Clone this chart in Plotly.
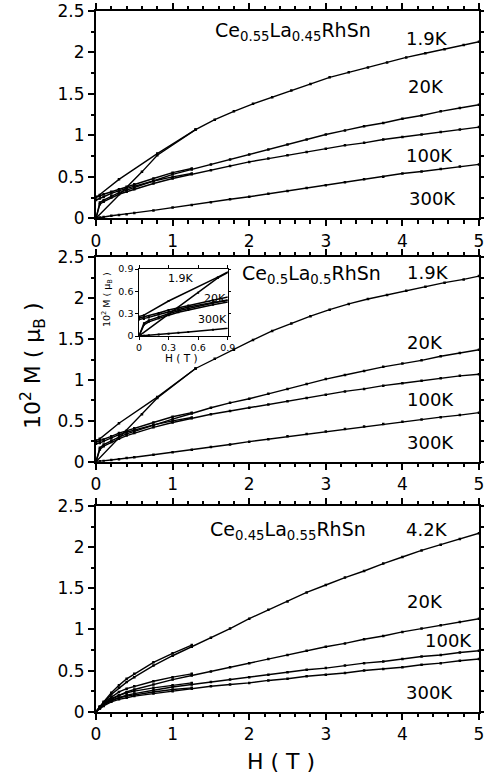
import plotly.graph_objects as go

# ---------------- field grids (T) ----------------
H_GRID = [0, 0.05, 0.1, 0.2, 0.3, 0.4, 0.5, 0.75, 1.0, 1.25, 1.5, 1.75, 2.0,
          2.25, 2.5, 2.75, 3.0, 3.25, 3.5, 3.75, 4.0, 4.25, 4.5, 4.75, 5.0]
H_RETURN = [1.25, 1.0, 0.75, 0.5, 0.4, 0.3, 0.2, 0.1, 0.05, 0]
H_LOWT = [0, 0.6, 0.8, 1.3, 1.55, 1.8, 2.05, 2.3, 2.55, 2.8, 3.05, 3.3, 3.55,
          3.8, 4.05, 4.3, 4.55, 4.8, 5.0]
H_LOWT_RETURN = [1.3, 0.8, 0.3, 0.05, 0]

# ---------------- Ce0.55La0.45RhSn (10^2 M, mu_B) ----------------
A_19K_UP = [0, 0.56, 0.76, 1.07, 1.19, 1.29, 1.38, 1.46, 1.54, 1.62, 1.70, 1.76, 1.82,
            1.88, 1.94, 1.99, 2.04, 2.09, 2.13]
A_19K_DN = [1.07, 0.78, 0.47, 0.28, 0.25]
A_20K_UP = [0, 0.19, 0.22, 0.27, 0.31, 0.34, 0.37, 0.45, 0.53, 0.59, 0.65, 0.71, 0.77,
            0.83, 0.89, 0.95, 1.01, 1.06, 1.11, 1.15, 1.20, 1.24, 1.29, 1.33, 1.37]
A_20K_DN = [0.60, 0.55, 0.48, 0.41, 0.38, 0.35, 0.32, 0.29, 0.27, 0.26]
A_100K_UP = [0, 0.17, 0.20, 0.25, 0.29, 0.32, 0.35, 0.42, 0.48, 0.53, 0.58, 0.63, 0.68,
             0.72, 0.76, 0.80, 0.84, 0.88, 0.91, 0.95, 0.98, 1.01, 1.04, 1.07, 1.10]
A_100K_DN = [0.54, 0.50, 0.45, 0.39, 0.36, 0.33, 0.30, 0.26, 0.24, 0.22]
A_300K_UP = [0, 0.01, 0.015, 0.03, 0.04, 0.05, 0.065, 0.095, 0.13, 0.16, 0.195, 0.23, 0.26,
             0.295, 0.33, 0.365, 0.40, 0.435, 0.47, 0.50, 0.54, 0.565, 0.595, 0.625, 0.65]

# ---------------- Ce0.5La0.5RhSn ----------------
B_19K_UP = [0, 0.58, 0.78, 1.14, 1.26, 1.37, 1.49, 1.60, 1.69, 1.78, 1.86, 1.93, 1.99,
            2.04, 2.09, 2.14, 2.19, 2.23, 2.27]
B_19K_DN = [1.14, 0.79, 0.47, 0.28, 0.26]
B_20K_UP = [0, 0.17, 0.21, 0.26, 0.30, 0.34, 0.37, 0.45, 0.52, 0.59, 0.66, 0.72, 0.77,
            0.83, 0.89, 0.95, 1.01, 1.06, 1.11, 1.16, 1.20, 1.24, 1.29, 1.33, 1.37]
B_20K_DN = [0.60, 0.55, 0.48, 0.41, 0.38, 0.35, 0.31, 0.27, 0.25, 0.24]
B_100K_UP = [0, 0.15, 0.19, 0.24, 0.28, 0.32, 0.35, 0.42, 0.48, 0.53, 0.58, 0.62, 0.66,
             0.70, 0.74, 0.78, 0.82, 0.86, 0.89, 0.93, 0.96, 0.99, 1.02, 1.05, 1.07]
B_100K_DN = [0.54, 0.50, 0.45, 0.39, 0.36, 0.33, 0.29, 0.25, 0.23, 0.22]
B_300K_UP = [0, 0.005, 0.01, 0.02, 0.03, 0.045, 0.055, 0.085, 0.115, 0.145, 0.18, 0.21, 0.245,
             0.275, 0.31, 0.34, 0.37, 0.40, 0.43, 0.46, 0.49, 0.515, 0.545, 0.57, 0.60]

# ---------------- Ce0.45La0.55RhSn ----------------
C_42K_UP = [0, 0.06, 0.11, 0.21, 0.29, 0.36, 0.42, 0.56, 0.68, 0.79, 0.90, 1.01, 1.13,
            1.24, 1.34, 1.45, 1.54, 1.63, 1.71, 1.80, 1.88, 1.96, 2.03, 2.10, 2.17]
C_42K_DN = [0.81, 0.71, 0.60, 0.46, 0.40, 0.32, 0.23, 0.12, 0.06, 0]
C_20K_UP = [0, 0.05, 0.09, 0.15, 0.20, 0.24, 0.27, 0.33, 0.39, 0.44, 0.49, 0.54, 0.59,
            0.64, 0.69, 0.74, 0.79, 0.83, 0.88, 0.92, 0.97, 1.01, 1.05, 1.09, 1.13]
C_20K_DN = [0.46, 0.42, 0.37, 0.31, 0.28, 0.24, 0.18, 0.11, 0.06, 0]
C_100K_UP = [0, 0.04, 0.08, 0.13, 0.17, 0.20, 0.22, 0.26, 0.30, 0.33, 0.36, 0.39, 0.42,
             0.45, 0.48, 0.51, 0.53, 0.56, 0.59, 0.61, 0.64, 0.67, 0.69, 0.72, 0.74]
C_100K_DN = [0.35, 0.32, 0.29, 0.25, 0.23, 0.20, 0.16, 0.10, 0.05, 0]
C_300K_UP = [0, 0.04, 0.07, 0.12, 0.15, 0.17, 0.19, 0.22, 0.25, 0.28, 0.31, 0.33, 0.35,
             0.38, 0.40, 0.43, 0.45, 0.47, 0.50, 0.52, 0.54, 0.57, 0.59, 0.62, 0.64]
C_300K_DN = [0.29, 0.27, 0.24, 0.21, 0.19, 0.17, 0.14, 0.09, 0.05, 0]

COMPOUNDS = ["Ce<sub>0.55</sub>La<sub>0.45</sub>RhSn",
             "Ce<sub>0.5</sub>La<sub>0.5</sub>RhSn",
             "Ce<sub>0.45</sub>La<sub>0.55</sub>RhSn"]
TEMPS = [["1.9K", "20K", "100K", "300K"],
         ["1.9K", "20K", "100K", "300K"],
         ["4.2K", "20K", "100K", "300K"]]

FONT = "DejaVu Sans"
W, HGT = 484, 781
ML, MR = 96, 5


def px(xp, yp):
    """Pixel position -> paper coordinates."""
    return (xp - ML) / (W - ML - MR), 1 - yp / HGT


fig = go.Figure()


def curve(x, y, xa, ya, msize=2.5, lw=1.4):
    fig.add_trace(go.Scatter(
        x=x, y=y, xaxis=xa, yaxis=ya, mode="lines+markers",
        line=dict(color="black", width=lw),
        marker=dict(symbol="square", size=msize, color="black"),
        showlegend=False, hoverinfo="skip"))


panels = [
    ("x", "y", [(H_LOWT, A_19K_UP), (H_LOWT_RETURN, A_19K_DN),
                (H_GRID, A_20K_UP), (H_RETURN, A_20K_DN),
                (H_GRID, A_100K_UP), (H_RETURN, A_100K_DN),
                (H_GRID, A_300K_UP)]),
    ("x2", "y2", [(H_LOWT, B_19K_UP), (H_LOWT_RETURN, B_19K_DN),
                  (H_GRID, B_20K_UP), (H_RETURN, B_20K_DN),
                  (H_GRID, B_100K_UP), (H_RETURN, B_100K_DN),
                  (H_GRID, B_300K_UP)]),
    ("x3", "y3", [(H_GRID, C_42K_UP), (H_RETURN, C_42K_DN),
                  (H_GRID, C_20K_UP), (H_RETURN, C_20K_DN),
                  (H_GRID, C_100K_UP), (H_RETURN, C_100K_DN),
                  (H_GRID, C_300K_UP), (H_RETURN, C_300K_DN)]),
]
for xa, ya, series in panels:
    for hx, my in series:
        curve(hx, my, xa, ya)

# inset: low-field part of the Ce0.5La0.5RhSn data
for hx, my in panels[1][2]:
    curve(hx, my, "x4", "y4", msize=2, lw=1.5)


# ---------------- axes ----------------
def xax(domain, anchor):
    return dict(domain=domain, anchor=anchor, range=[0, 5], dtick=1,
                automargin=False, ticklabeloverflow="allow",
                showline=True, linecolor="black", linewidth=2, mirror="ticks",
                ticks="outside", ticklen=6, tickwidth=1.5, tickcolor="black",
                minor=dict(dtick=0.2, ticks="outside", ticklen=3.5, tickwidth=1.5,
                           tickcolor="black"),
                showgrid=False, zeroline=False,
                tickfont=dict(family=FONT, size=17, color="black"))


def yax(domain, anchor):
    return dict(domain=domain, anchor=anchor, range=[0, 2.5], dtick=0.5,
                automargin=False, ticklabeloverflow="allow",
                showline=True, linecolor="black", linewidth=2, mirror="ticks",
                ticks="outside", ticklen=6, tickwidth=1.5, tickcolor="black",
                minor=dict(dtick=0.25, ticks="outside", ticklen=3.5, tickwidth=1.5,
                           tickcolor="black"),
                showgrid=False, zeroline=False,
                tickfont=dict(family=FONT, size=17, color="black"))


def inset_ax(domain, anchor):
    return dict(domain=domain, anchor=anchor, range=[0, 0.9], dtick=0.3,
                automargin=False, ticklabeloverflow="allow",
                showline=True, linecolor="black", linewidth=1.3, mirror="ticks",
                ticks="outside", ticklen=2.5, tickwidth=1, tickcolor="black",
                showgrid=False, zeroline=False,
                tickfont=dict(family=FONT, size=9.5, color="black"))


dom_top = [px(0, 218.3)[1], px(0, 11)[1]]
dom_mid = [px(0, 461.7)[1], px(0, 257.3)[1]]
dom_bot = [px(0, 711.7)[1], px(0, 506)[1]]

inset_x = [px(139, 0)[0], px(227.7, 0)[0]]
inset_y = [px(0, 336)[1], px(0, 269)[1]]

fig.update_layout(
    width=W, height=HGT,
    margin=dict(l=ML, r=MR, t=0, b=0, autoexpand=False),
    paper_bgcolor="white", plot_bgcolor="white",
    xaxis=xax([0, 1], "y"), yaxis=yax(dom_top, "x"),
    xaxis2=xax([0, 1], "y2"), yaxis2=yax(dom_mid, "x2"),
    xaxis3=xax([0, 1], "y3"), yaxis3=yax(dom_bot, "x3"),
    xaxis4=inset_ax(inset_x, "y4"), yaxis4=inset_ax(inset_y, "x4"),
)

ann = []
# compound names
for (xa, ya), (hx, my), name in zip(
        [("x", "y"), ("x2", "y2"), ("x3", "y3")],
        [(1.525, 2.25), (1.877, 2.29), (1.465, 2.20)], COMPOUNDS):
    ann.append(dict(x=hx, y=my, xref=xa, yref=ya, text=name, showarrow=False,
                    xanchor="left", yanchor="middle",
                    font=dict(family=FONT, size=19, color="black")))

# temperature labels
label_pos = [
    [(4.32, 2.17), (4.31, 1.585), (4.355, 0.753), (4.39, 0.24)],
    [(4.34, 2.32), (4.29, 1.457), (4.365, 0.766), (4.37, 0.235)],
    [(4.315, 2.22), (4.29, 1.337), (4.60, 0.86), (4.36, 0.233)],
]
for (xa, ya), temps, pos in zip([("x", "y"), ("x2", "y2"), ("x3", "y3")], TEMPS, label_pos):
    for t, (hx, my) in zip(temps, pos):
        ann.append(dict(x=hx, y=my, xref=xa, yref=ya, text=t, showarrow=False,
                        xanchor="center", yanchor="middle",
                        font=dict(family=FONT, size=18, color="black")))

# inset labels
for t, (hx, my) in zip(["1.9K", "20K", "300K"], [(0.42, 0.77), (0.77, 0.51), (0.75, 0.22)]):
    ann.append(dict(x=hx, y=my, xref="x4", yref="y4", text=t, showarrow=False,
                    xanchor="center", yanchor="middle",
                    font=dict(family=FONT, size=11, color="black")))

# axis titles
yt = px(33, 366)
ann.append(dict(x=yt[0], y=yt[1], xref="paper", yref="paper",
                text="10<sup>2</sup> M ( μ<sub>B</sub> )", textangle=-90,
                showarrow=False, xanchor="center", yanchor="middle",
                font=dict(family=FONT, size=22, color="black")))
xt = px(281, 761)
ann.append(dict(x=xt[0], y=xt[1], xref="paper", yref="paper", text="H ( T )",
                showarrow=False, xanchor="center", yanchor="middle",
                font=dict(family=FONT, size=22, color="black")))
iyt = px(107, 300)
ann.append(dict(x=iyt[0], y=iyt[1], xref="paper", yref="paper",
                text="10<sup>2</sup> M ( μ<sub>B</sub> )", textangle=-90,
                showarrow=False, xanchor="center", yanchor="middle",
                font=dict(family=FONT, size=9.5, color="black")))
ixt = px(181, 357.5)
ann.append(dict(x=ixt[0], y=ixt[1], xref="paper", yref="paper", text="H ( T )",
                showarrow=False, xanchor="center", yanchor="middle",
                font=dict(family=FONT, size=10.5, color="black")))

fig.update_layout(annotations=ann)
fig.write_html("out.html")
